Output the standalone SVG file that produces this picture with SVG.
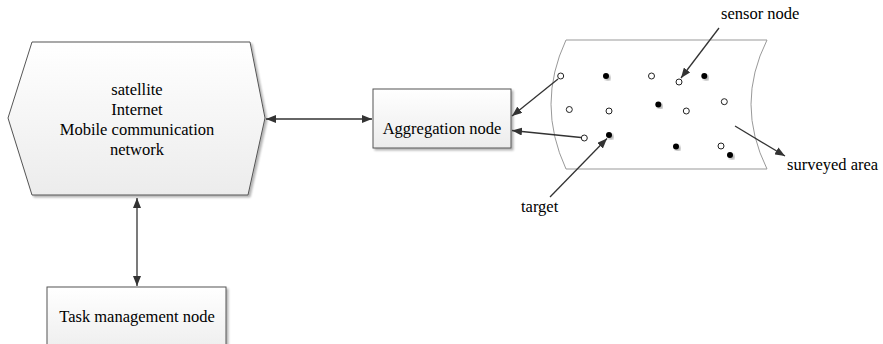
<svg xmlns="http://www.w3.org/2000/svg" width="883" height="344" viewBox="0 0 883 344">
<defs>
<linearGradient id="g" x1="0" y1="0" x2="0" y2="1">
<stop offset="0" stop-color="#ffffff"/>
<stop offset="1" stop-color="#ececec"/>
</linearGradient>
<filter id="sh" x="-10%" y="-10%" width="130%" height="130%">
<feGaussianBlur in="SourceAlpha" stdDeviation="1.2"/>
<feOffset dx="2" dy="2" result="b"/>
<feComponentTransfer><feFuncA type="linear" slope="0.3"/></feComponentTransfer>
<feMerge><feMergeNode/><feMergeNode in="SourceGraphic"/></feMerge>
</filter>
<marker id="ah" viewBox="0 0 10 8" refX="10" refY="4" markerWidth="10" markerHeight="8" markerUnits="userSpaceOnUse" orient="auto-start-reverse">
<path d="M0,0 L10,4 L0,8 Z" fill="#333"/>
</marker>
</defs>
<style>
.box{fill:url(#g);stroke:#555;stroke-width:1;filter:url(#sh)}
.t{font-family:"Liberation Serif","Times New Roman",serif;font-size:16.5px;fill:#000}
.c{stroke:#333;stroke-width:1.3;fill:none}
.o{fill:#fff;stroke:#222;stroke-width:1}
.f{fill:#000;filter:url(#sh)}
</style>
<g id="network">
<polygon class="box" points="32,42 250,42 265,118 248,195 32,195 8,118"/>
<text class="t" text-anchor="middle" x="137" y="95">satellite</text>
<text class="t" text-anchor="middle" x="137" y="115">Internet</text>
<text class="t" text-anchor="middle" x="137" y="135">Mobile communication</text>
<text class="t" text-anchor="middle" x="137" y="155">network</text>
</g>
<g id="aggregation">
<rect class="box" x="373" y="89" width="138" height="59"/>
<text class="t" text-anchor="middle" x="442" y="134">Aggregation node</text>
</g>
<g id="task">
<rect class="box" x="47" y="287" width="179" height="70"/>
<text class="t" text-anchor="middle" x="137" y="322">Task management node</text>
</g>
<g id="area">
<path d="M566,40 L767,40 Q735,104 767,169 L566,169 Q536,104 566,40 Z" fill="#fff" stroke="#999" stroke-width="1"/>
<circle class="o" cx="560.7" cy="76" r="3"/>
<circle class="o" cx="651.5" cy="76" r="3"/>
<circle class="o" cx="679" cy="82" r="3"/>
<circle class="o" cx="569.3" cy="109.5" r="3"/>
<circle class="o" cx="609" cy="111" r="3"/>
<circle class="o" cx="686.3" cy="111" r="3"/>
<circle class="o" cx="724.3" cy="101.7" r="3"/>
<circle class="o" cx="584.3" cy="138" r="3"/>
<circle class="o" cx="721" cy="146" r="3"/>
<circle class="f" cx="606" cy="76" r="3"/>
<circle class="f" cx="704.3" cy="76" r="3"/>
<circle class="f" cx="658.3" cy="104.5" r="3"/>
<circle class="f" cx="609" cy="135" r="3"/>
<circle class="f" cx="676" cy="146.5" r="3"/>
<circle class="f" cx="730" cy="155" r="3"/>
</g>
<g id="labels">
<text class="t" x="721" y="19">sensor node</text>
<text class="t" x="521" y="212">target</text>
<text class="t" x="787" y="170">surveyed area</text>
</g>
<g id="connectors">
<line class="c" x1="137" y1="198" x2="137" y2="286" marker-start="url(#ah)" marker-end="url(#ah)"/>
<line class="c" x1="266" y1="119" x2="372" y2="119" marker-start="url(#ah)" marker-end="url(#ah)"/>
<line class="c" x1="558" y1="79" x2="512" y2="116" marker-end="url(#ah)"/>
<line class="c" x1="581" y1="137.5" x2="512" y2="130.5" marker-end="url(#ah)"/>
<line class="c" x1="719" y1="28" x2="681" y2="78" marker-end="url(#ah)"/>
<line class="c" x1="550" y1="197" x2="607" y2="138.5" marker-end="url(#ah)"/>
<line class="c" x1="735" y1="126" x2="785" y2="156" marker-end="url(#ah)"/>
</g>
</svg>
